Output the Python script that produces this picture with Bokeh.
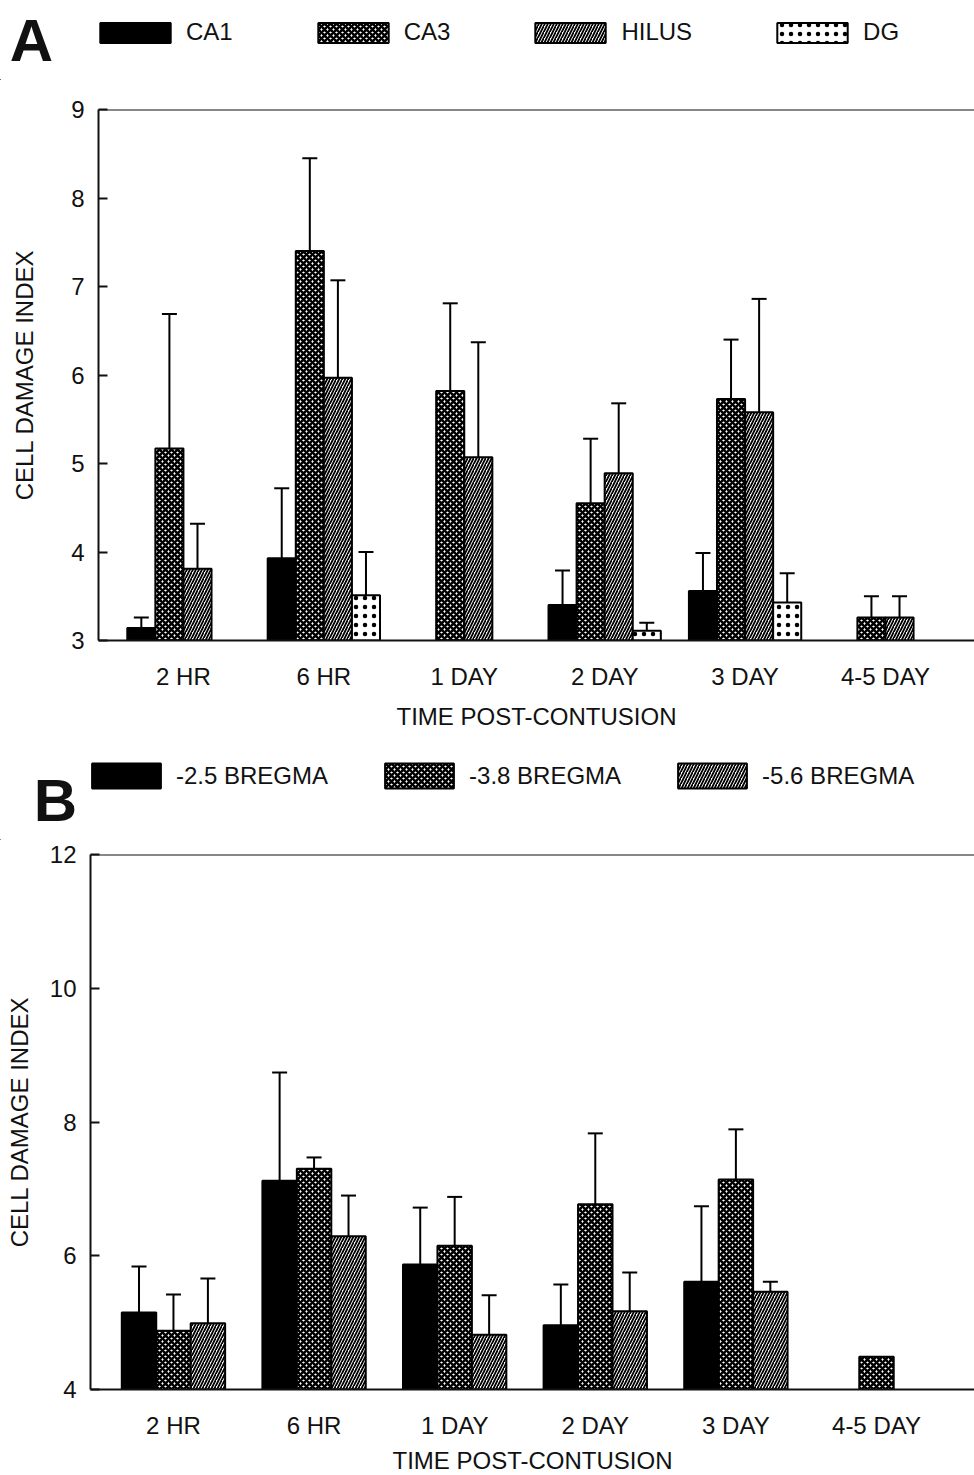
import math
from bokeh.plotting import figure
from bokeh.models import (ColumnDataSource, Range1d, FixedTicker, Whisker, TeeHead,
                          Legend, LegendItem, Label, Span)
from bokeh.transform import dodge
from bokeh.layouts import column, row
from bokeh.embed import file_html
from bokeh.resources import INLINE

nan = float("nan")

# ---------------- data ----------------
times = ["2 HR", "6 HR", "1 DAY", "2 DAY", "3 DAY", "4-5 DAY"]

# Panel A : hippocampal regions (mean, mean + error)
ca1 = [3.14, 3.93, nan, 3.40, 3.56, nan]
ca1_top = [3.26, 4.72, nan, 3.79, 3.99, nan]
ca3 = [5.17, 7.40, 5.82, 4.55, 5.73, 3.26]
ca3_top = [6.69, 8.45, 6.81, 5.28, 6.40, 3.50]
hilus = [3.81, 5.97, 5.07, 4.89, 5.58, 3.26]
hilus_top = [4.32, 7.07, 6.37, 5.68, 6.86, 3.50]
dg = [nan, 3.51, nan, 3.11, 3.43, nan]
dg_top = [nan, 4.00, nan, 3.20, 3.76, nan]

# Panel B : bregma levels (mean, mean + error)
b25 = [5.15, 7.12, 5.87, 4.96, 5.61, nan]
b25_top = [5.84, 8.74, 6.72, 5.57, 6.74, nan]
b38 = [4.88, 7.30, 6.15, 6.77, 7.14, 4.49]
b38_top = [5.42, 7.47, 6.88, 7.83, 7.89, nan]
b56 = [4.99, 6.29, 4.82, 5.17, 5.46, nan]
b56_top = [5.66, 6.90, 5.41, 5.75, 5.61, nan]

seriesA = ["CA1", "CA3", "HILUS", "DG"]
seriesB = ["-2.5 BREGMA", "-3.8 BREGMA", "-5.6 BREGMA"]

# ---------------- styling ----------------
FONT = "Liberation Sans"
INK = "#111111"
styles = {
    "solid": dict(fill_color="black"),
    "cross": dict(fill_color="white", hatch_pattern="x", hatch_scale=6, hatch_weight=2.6, hatch_color="black"),
    "diag": dict(fill_color="white", hatch_pattern="/", hatch_scale=6, hatch_weight=1.8, hatch_color="black"),
    "dots": dict(fill_color="white", hatch_pattern=".", hatch_scale=9, hatch_weight=1.0, hatch_color="black"),
}

xs = list(range(len(times)))


def style_axes(p, yticks):
    p.outline_line_color = None
    p.xgrid.visible = False
    p.ygrid.visible = False
    p.background_fill_color = "white"
    p.border_fill_color = "white"
    p.xaxis.ticker = FixedTicker(ticks=xs)
    p.xaxis.major_label_overrides = {i: t for i, t in enumerate(times)}
    p.xaxis.major_tick_line_color = None
    p.xaxis.minor_tick_line_color = None
    p.xaxis.axis_line_width = 2
    p.xaxis.axis_line_color = INK
    p.xaxis.major_label_text_font = FONT
    p.xaxis.major_label_text_font_size = "24px"
    p.xaxis.major_label_text_color = INK
    p.xaxis.major_label_standoff = 16
    p.xaxis.axis_label = "TIME POST-CONTUSION"
    p.xaxis.axis_label_text_font = FONT
    p.xaxis.axis_label_text_font_size = "24px"
    p.xaxis.axis_label_text_font_style = "normal"
    p.xaxis.axis_label_text_color = INK
    p.xaxis.axis_label_standoff = 10

    p.yaxis.ticker = FixedTicker(ticks=yticks)
    p.yaxis.major_tick_in = 9
    p.yaxis.major_tick_out = 0
    p.yaxis.major_tick_line_width = 2
    p.yaxis.major_tick_line_color = INK
    p.yaxis.minor_tick_line_color = None
    p.yaxis.axis_line_width = 2
    p.yaxis.axis_line_color = INK
    p.yaxis.major_label_text_font = FONT
    p.yaxis.major_label_text_font_size = "24px"
    p.yaxis.major_label_text_color = INK
    p.yaxis.axis_label = "CELL DAMAGE INDEX"
    p.yaxis.axis_label_text_font = FONT
    p.yaxis.axis_label_text_font_size = "24px"
    p.yaxis.axis_label_text_font_style = "normal"
    p.yaxis.axis_label_text_color = INK
    p.add_layout(Span(location=p.y_range.end, dimension="width", line_width=2, line_color=INK))


def add_series(p, src, keys, offsets, width, base, style_keys):
    for key, off, sk in zip(keys, offsets, style_keys):
        xd = dodge("x", off, range=p.x_range)
        p.vbar(x=xd, top=key, bottom=base, width=width, source=src,
               line_color="black", line_width=2, **styles[sk])
        p.add_layout(Whisker(source=src, base=xd, lower=key, upper=key + "_top",
                             dimension="height", line_width=2, line_color="black",
                             lower_head=None,
                             upper_head=TeeHead(size=15, line_width=2, line_color="black")))


def header(height, letter, letter_xy, names, style_keys, leg_xy, glyph_w, glyph_h, spacing, standoff):
    # a blank strip that carries the panel letter and the legend
    h = figure(width=974, height=height, x_range=Range1d(0, 1), y_range=Range1d(0, 1),
               x_axis_type=None, y_axis_type=None, min_border=0,
               output_backend="svg", toolbar_location=None, tools="")
    h.outline_line_color = None
    h.xgrid.visible = False
    h.ygrid.visible = False
    # legend proxies: one off-range bar per series so that the legend has a glyph to draw
    proxy = ColumnDataSource(dict(x=[-5.0], top=[-5.0]))
    items = []
    for name, sk in zip(names, style_keys):
        r = h.vbar(x="x", top="top", width=0.1, source=proxy,
                   line_color="black", line_width=2, **styles[sk])
        items.append(LegendItem(label=name, renderers=[r]))
    leg = Legend(items=items, orientation="horizontal", location=leg_xy,
                 glyph_width=glyph_w, glyph_height=glyph_h, label_standoff=standoff,
                 spacing=spacing, padding=0, margin=0,
                 background_fill_alpha=0, border_line_alpha=0,
                 label_text_font=FONT, label_text_font_size="24px", label_text_color=INK)
    h.add_layout(leg)
    h.add_layout(Label(x=letter_xy[0], y=letter_xy[1], x_units="screen", y_units="screen",
                       text=letter, text_font=FONT, text_font_size="60px",
                       text_font_style="bold", text_align="center",
                       text_baseline="middle", text_color=INK))
    return h


# ---------------- panel A ----------------
hA = header(80, "A", (31, 40), seriesA, ["solid", "cross", "diag", "dots"],
            (91, 34), 88, 25, 76, 7)

srcA = ColumnDataSource(dict(x=xs, ca1=ca1, ca1_top=ca1_top, ca3=ca3, ca3_top=ca3_top,
                             hilus=hilus, hilus_top=hilus_top, dg=dg, dg_top=dg_top))
pA = figure(frame_width=876, frame_height=531, min_border_left=98, min_border_right=0,
            min_border_top=29, min_border_bottom=100,
            x_range=Range1d(-0.605, 5.634), y_range=Range1d(3, 9),
            output_backend="svg", toolbar_location=None, tools="")
style_axes(pA, [3, 4, 5, 6, 7, 8, 9])
pA.yaxis.major_label_standoff = 14
pA.yaxis.axis_label_standoff = 30
add_series(pA, srcA, ["ca1", "ca3", "hilus", "dg"], [-0.3, -0.1, 0.1, 0.3], 0.2, 3,
           ["solid", "cross", "diag", "dots"])

# ---------------- panel B ----------------
hB = header(100, "B", (55, 40), seriesB, ["solid", "cross", "diag"],
            (83, 49), 86, 31, 48, 7)

srcB = ColumnDataSource(dict(x=xs, b25=b25, b25_top=b25_top, b38=b38, b38_top=b38_top,
                             b56=b56, b56_top=b56_top))
pB = figure(frame_width=884, frame_height=535, min_border_left=90, min_border_right=0,
            min_border_top=14, min_border_bottom=86,
            x_range=Range1d(-0.59, 5.697), y_range=Range1d(4, 12),
            output_backend="svg", toolbar_location=None, tools="")
style_axes(pB, [4, 6, 8, 10, 12])
pB.yaxis.major_label_standoff = 14
pB.yaxis.axis_label_standoff = 14
pB.xaxis.axis_label_standoff = 5
add_series(pB, srcB, ["b25", "b38", "b56"], [-0.245, 0.0, 0.245], 0.245, 4,
           ["solid", "cross", "diag"])

# each piece in its own row so that the column does not align their frames
layout = column(row(hA), row(pA), row(hB), row(pB), spacing=0)
open("out.html", "w").write(file_html(layout, INLINE))
